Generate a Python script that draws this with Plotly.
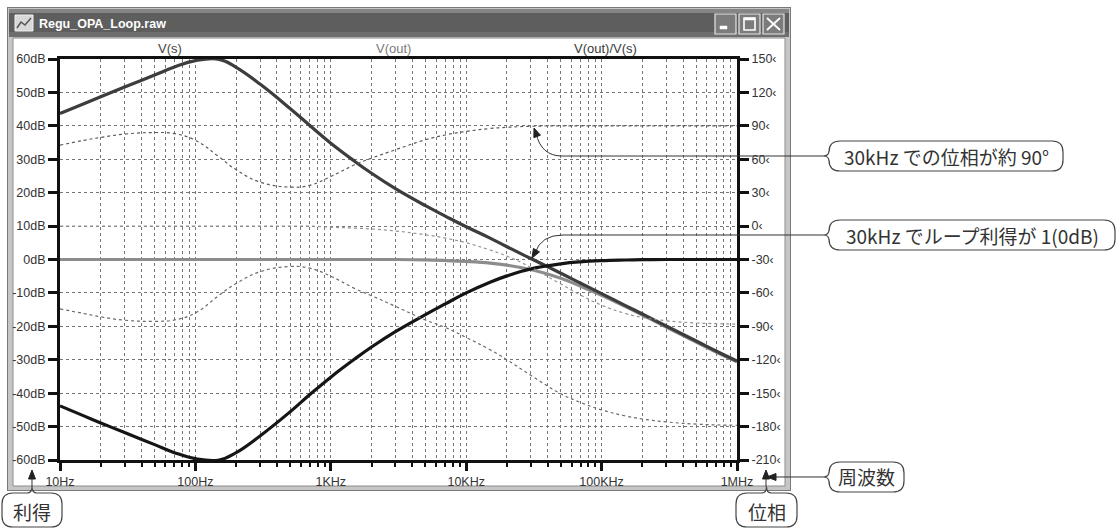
import math
import plotly.graph_objects as go

# ---------------------------------------------------------------- data
freq_hz = [10, 15, 20, 30, 50, 70,
           100, 150, 200, 300, 500, 700,
           1e3, 1.5e3, 2e3, 3e3, 5e3, 7e3,
           1e4, 1.5e4, 2e4, 3e4, 5e4, 7e4,
           1e5, 1.5e5, 2e5, 3e5, 5e5, 7e5,
           1e6]

# magnitudes in dB (left axis)
vs_db = [43.7, 46.6, 48.7, 51.6, 55.2, 57.6,
         59.5, 59.9, 57.5, 52.5, 45.2, 40.1,
         34.8, 29.4, 25.8, 21.2, 16.1, 13.0,
         9.8, 6.4, 3.8, 0.3, -4.1, -7.1,
         -10.2, -13.8, -16.3, -19.9, -24.4, -27.4,
         -30.4]
vout_db = [0.0, 0.0, 0.0, 0.0, 0.0, 0.0,
           0.0, 0.0, 0.0, 0.0, 0.0, 0.0,
           0.0, 0.0, 0.0, 0.0, -0.1, -0.3,
           -0.6, -1.1, -1.7, -3.0, -5.6, -8.0,
           -10.7, -14.1, -16.6, -20.2, -24.7, -27.7,
           -30.6]
ratio_db = [-43.8, -46.8, -48.9, -51.8, -55.4, -57.8,
            -59.6, -60.0, -57.8, -52.8, -45.6, -40.4,
            -35.2, -29.8, -26.2, -21.6, -16.5, -13.3,
            -10.0, -6.8, -4.9, -2.8, -1.3, -0.7,
            -0.35, -0.15, -0.05, 0.0, 0.0, 0.0,
            0.0]

# phases in degrees (right axis)
vs_phase_deg = [72.6, 77.0, 79.6, 82.6, 84.0, 83.0,
                77.0, 62.0, 50.5, 39.5, 35.0, 36.6,
                44.5, 55.0, 61.0, 68.5, 77.5, 81.8,
                85.0, 87.6, 88.7, 89.6, 90.0, 90.0,
                90.0, 90.0, 90.0, 90.0, 90.0, 90.0,
                90.0]
vout_phase_deg = [0.0, 0.0, 0.0, 0.0, 0.0, 0.0,
                  0.0, 0.0, 0.0, 0.0, 0.0, 0.0,
                  -1.0, -1.8, -2.6, -4.4, -7.8, -10.8,
                  -15.0, -21.5, -27.0, -37.0, -52.0, -62.0,
                  -71.0, -78.5, -82.0, -85.0, -87.0, -87.6,
                  -88.0]
ratio_phase_deg = [-74.4, -78.5, -81.5, -84.5, -85.5, -84.3,
                   -78.0, -62.0, -51.5, -41.0, -36.3, -37.8,
                   -45.0, -56.0, -62.5, -72.0, -84.3, -91.0,
                   -100.0, -111.0, -120.0, -134.0, -150.5, -158.4,
                   -165.0, -170.5, -173.2, -175.8, -177.8, -178.5,
                   -178.8]

db_ticks = [-60, -50, -40, -30, -20, -10, 0, 10, 20, 30, 40, 50, 60]
db_tick_text = ["-60dB", "-50dB", "-40dB", "-30dB", "-20dB", "-10dB", "0dB",
                "10dB", "20dB", "30dB", "40dB", "50dB", "60dB"]
deg_ticks = [-210, -180, -150, -120, -90, -60, -30, 0, 30, 60, 90, 120, 150]
deg_tick_text = ["-210‹", "-180‹", "-150‹", "-120‹", "-90‹", "-60‹", "-30‹",
                 "0‹", "30‹", "60‹", "90‹", "120‹", "150‹"]
freq_ticks = [10, 100, 1e3, 1e4, 1e5, 1e6]
freq_tick_text = ["10Hz", "100Hz", "1KHz", "10KHz", "100KHz", "1MHz"]

trace_names = ["V(s)", "V(out)", "V(out)/V(s)"]
window_title = "Regu_OPA_Loop.raw"
note_phase = "30kHz での位相が約 90°"
note_gain = "30kHz でループ利得が 1(0dB)"
label_freq = "周波数"
label_phase = "位相"
label_gain = "利得"

# ---------------------------------------------------------------- layout geometry (pixels)
W, H = 1120, 528
PL, PR, PT, PB = 60, 737, 59, 460

C_VS = "#3d3d3d"
C_VOUT = "#8c8c8c"
C_RATIO = "#151515"
GRID = "#767676"
TXT = "#333333"
FONT = "Liberation Sans, Arial, sans-serif"
JFONT = "Noto Sans CJK JP, sans-serif"


def px(x):
    return (x - PL) / (PR - PL)


def py(y):
    return (PB - y) / (PB - PT)


def P(x, y):
    return f"{px(x):.5f},{py(y):.5f}"


shapes = []


def rect(x0, y0, x1, y1, fill, line="rgba(0,0,0,0)", lw=0, layer="below"):
    shapes.append(dict(type="rect", xref="paper", yref="paper",
                       x0=px(x0), x1=px(x1), y0=py(y1), y1=py(y0),
                       fillcolor=fill, line=dict(color=line, width=lw),
                       layer=layer))


def path(d, line="#444", lw=1, fill=None, layer="above"):
    s = dict(type="path", xref="paper", yref="paper", path=d,
             line=dict(color=line, width=lw), layer=layer)
    if fill:
        s["fillcolor"] = fill
    shapes.append(s)


def seg(x0, y0, x1, y1, color, lw=1, layer="above"):
    path(f"M {P(x0, y0)} L {P(x1, y1)}", line=color, lw=lw, layer=layer)


def bubble(x0, y0, x1, y1, notch):
    r = 11
    ym = (y0 + y1) / 2
    xm = (x0 + x1) / 2
    d = f"M {P(x0 + r, y0)} "
    if notch == "top":
        d += f"L {P(xm - 5, y0)} Q {P(xm, y0)} {P(xm, y0 - 6)} Q {P(xm, y0)} {P(xm + 5, y0)} "
    d += (f"L {P(x1 - r, y0)} Q {P(x1, y0)} {P(x1, y0 + r)} "
          f"L {P(x1, y1 - r)} Q {P(x1, y1)} {P(x1 - r, y1)} "
          f"L {P(x0 + r, y1)} Q {P(x0, y1)} {P(x0, y1 - r)} ")
    if notch == "left":
        d += f"L {P(x0, ym + 5)} Q {P(x0, ym)} {P(x0 - 6, ym)} Q {P(x0, ym)} {P(x0, ym - 5)} "
    d += f"L {P(x0, y0 + r)} Q {P(x0, y0)} {P(x0 + r, y0)} Z"
    path(d, line="#444444", lw=1.2, fill="white")


def arrowhead(tx, ty, fx, fy, length=9, half=3.5, color="#222"):
    dx, dy = tx - fx, ty - fy
    n = math.hypot(dx, dy)
    ux, uy = dx / n, dy / n
    bx, by = tx - ux * length, ty - uy * length
    nx, ny = -uy, ux
    d = (f"M {P(tx, ty)} L {P(bx + nx * half, by + ny * half)} "
         f"L {P(bx - nx * half, by - ny * half)} Z")
    path(d, line=color, lw=1, fill=color)


# window frame
rect(7, 7, 791, 491, "#7a7a7a")
rect(8, 8, 790, 490, "#c6c6c6")
rect(9, 9, 789, 37, "#5e5e5e")
rect(9, 9, 789, 13, "#858585")
rect(9, 32, 789, 37, "#6e6e6e")
rect(13, 38, 785, 486, "white", line="#8c8c8c", lw=1)

# title-bar icon
rect(15, 15, 33, 31, "#d8d8d8", line="#f0f0f0", lw=1)
path(f"M {P(17, 28)} L {P(21, 22)} L {P(25, 25)} L {P(31, 18)}", line="#555555", lw=1.5,
     layer="below")

# caption buttons
for bx0, bx1 in [(715, 736), (739, 760), (763, 784)]:
    rect(bx0, 14, bx1, 34, "#7c7c7c", line="#e6e6e6", lw=1.2)
rect(720, 26, 727, 29, "white", line="white", lw=0.5)
rect(744, 18, 755, 30, "rgba(0,0,0,0)", line="white", lw=1.6)
seg(744, 19, 755, 19, "white", 2.5, layer="below")
seg(767, 18, 780, 30, "white", 1.8, layer="below")
seg(780, 18, 767, 30, "white", 1.8, layer="below")

# callouts
bubble(829, 141, 1063, 171, "left")
bubble(829, 220, 1115, 250, "left")
bubble(829, 462, 904, 492, "left")
bubble(736, 493, 797, 527, "top")
bubble(2, 493, 62, 527, "top")

# leader lines
path(f"M {P(823, 156)} L {P(562, 156)} Q {P(541, 156)} {P(536, 133)}", line="#333333", lw=1)
arrowhead(534, 128, 537, 136)
path(f"M {P(823, 235)} L {P(563, 235)} Q {P(541, 235)} {P(535, 253)}", line="#333333", lw=1)
arrowhead(532, 258, 536, 251)
seg(823, 477, 775, 477, "#333333", 1)
arrowhead(767, 477, 777, 477)
seg(766, 487, 766, 478, "#333333", 1)
arrowhead(766, 470, 766, 480)
seg(32, 487, 32, 478, "#333333", 1)
arrowhead(32, 470, 32, 480)

# ---------------------------------------------------------------- traces
fig = go.Figure()
dash = "3px,3px"
SM = 1.2
fig.add_trace(go.Scatter(x=freq_hz, y=vs_phase_deg, yaxis="y2", mode="lines",
                         line=dict(color="#5a5a5a", width=1.2, dash=dash,
                                   shape="spline", smoothing=SM)))
fig.add_trace(go.Scatter(x=freq_hz, y=vout_phase_deg, yaxis="y2", mode="lines",
                         line=dict(color="#939393", width=1.2, dash=dash,
                                   shape="spline", smoothing=SM)))
fig.add_trace(go.Scatter(x=freq_hz, y=ratio_phase_deg, yaxis="y2", mode="lines",
                         line=dict(color="#6a6a6a", width=1.2, dash=dash,
                                   shape="spline", smoothing=SM)))
fig.add_trace(go.Scatter(x=freq_hz, y=vout_db, mode="lines",
                         line=dict(color=C_VOUT, width=3.2, shape="spline", smoothing=SM)))
fig.add_trace(go.Scatter(x=freq_hz, y=vs_db, mode="lines",
                         line=dict(color=C_VS, width=3.2, shape="spline", smoothing=SM)))
fig.add_trace(go.Scatter(x=freq_hz, y=ratio_db, mode="lines",
                         line=dict(color=C_RATIO, width=3.2, shape="spline", smoothing=SM)))

# ---------------------------------------------------------------- text
annotations = []


def text(x, y, s, size, color=TXT, family=FONT, xanchor="center", bold=False):
    if bold:
        s = f"<b>{s}</b>"
    annotations.append(dict(x=px(x), y=py(y), xref="paper", yref="paper", text=s,
                            showarrow=False, xanchor=xanchor, yanchor="middle",
                            font=dict(size=size, color=color, family=family)))


text(37, 24, window_title, 12.5, color="white", xanchor="left", bold=True)
for name, xc, col in zip(trace_names, [170, 393, 605], ["#444444", "#7a7a7a", "#3a3a3a"]):
    text(xc, 48, name, 13, color=col)
text(946, 156, note_phase, 19, family=JFONT)
text(972, 235, note_gain, 19, family=JFONT)
text(866, 477, label_freq, 19, family=JFONT)
text(767, 511, label_phase, 19, family=JFONT)
text(32, 511, label_gain, 19, family=JFONT)

# ---------------------------------------------------------------- axes
tickfont = dict(family=FONT, size=12.5, color=TXT)
fig.update_layout(
    width=W, height=H, autosize=False,
    margin=dict(l=PL, r=W - PR, t=PT, b=H - PB, pad=0),
    paper_bgcolor="white", plot_bgcolor="white",
    showlegend=False,
    shapes=shapes, annotations=annotations,
    xaxis=dict(type="log", range=[1, 6], showline=True, linecolor="#111111", linewidth=3,
               mirror=True, ticks="outside", ticklen=8, tickwidth=2.5, tickcolor="#111111",
               tickvals=freq_ticks, ticktext=freq_tick_text, tickfont=tickfont,
               showgrid=True, gridcolor=GRID, gridwidth=1, griddash=dash,
               minor=dict(ticks="outside", ticklen=4, tickwidth=2, tickcolor="#111111",
                          dtick="D1", showgrid=True, gridcolor=GRID, gridwidth=1,
                          griddash=dash),
               zeroline=False, fixedrange=True),
    yaxis=dict(range=[-60, 60], showline=True, linecolor="#111111", linewidth=3,
               ticks="outside", ticklen=9, tickwidth=3, tickcolor="#111111",
               tickvals=db_ticks, ticktext=db_tick_text, tickfont=tickfont,
               showgrid=True, gridcolor=GRID, gridwidth=1, griddash=dash,
               zeroline=False, fixedrange=True),
    yaxis2=dict(range=[-210, 150], overlaying="y", side="right", showline=True,
                linecolor="#111111", linewidth=3, ticks="outside", ticklen=9,
                tickwidth=3, tickcolor="#111111", tickvals=deg_ticks,
                ticktext=deg_tick_text, tickfont=tickfont, showgrid=False,
                zeroline=False, fixedrange=True),
)

fig.write_html("out.html")
